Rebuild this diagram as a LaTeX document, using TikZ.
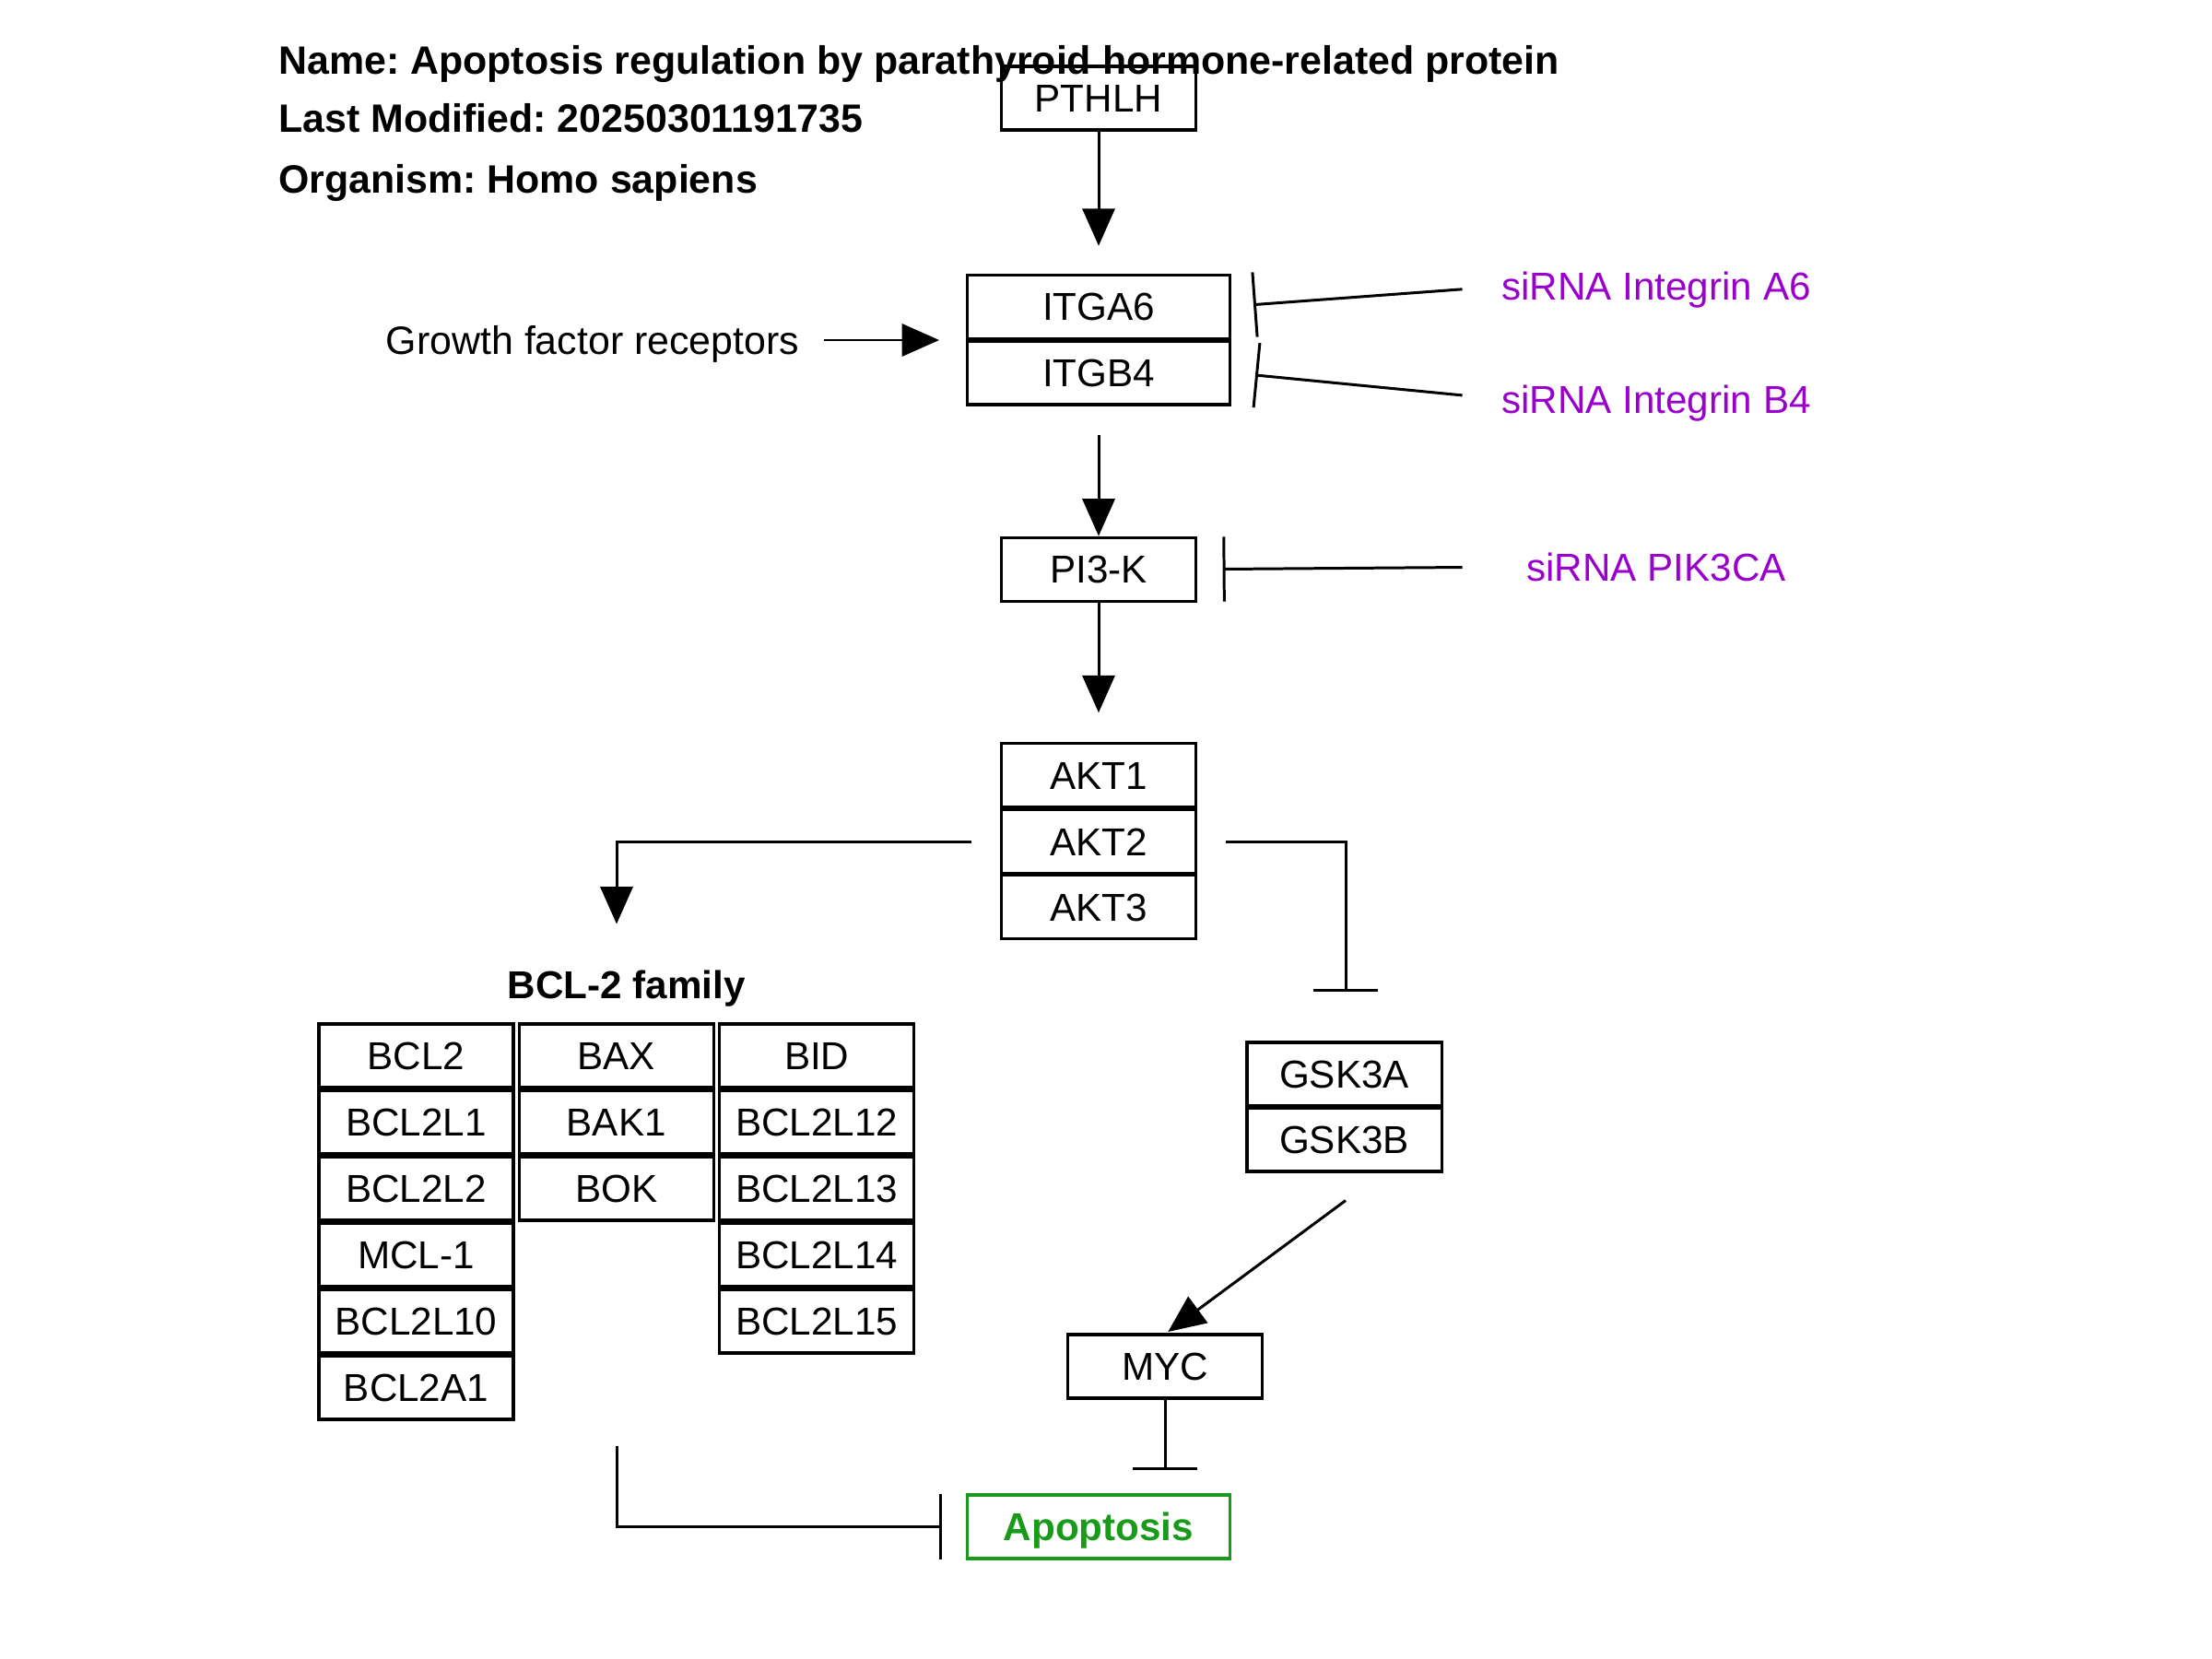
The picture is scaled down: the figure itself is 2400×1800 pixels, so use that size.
\documentclass[tikz,border=0pt]{standalone}
\usepackage{fontspec}
\setmainfont{Liberation Sans}
\usetikzlibrary{arrows.meta}
\definecolor{sirna}{RGB}{153,0,204}
\definecolor{apop}{RGB}{26,154,26}
\frenchspacing
\begin{document}
\begin{tikzpicture}[x=0.01cm,y=-0.01cm,
  every node/.style={font=\fontsize{12pt}{14pt}\selectfont, inner sep=0pt, text height=8.6pt, text depth=0pt},
  gene/.style={draw, line width=0.9pt, minimum width=2.11cm, minimum height=0.69cm},
  wgene/.style={gene, minimum width=2.85cm},
  lbl/.style={font=\fontsize{12.2pt}{14pt}\selectfont},
  sir/.style={text=sirna},
  title/.style={anchor=west, font=\fontsize{12.2pt}{14pt}\selectfont\bfseries},
  act/.style={line width=0.85pt, -{Triangle[length=11.5pt,width=10pt]}},
  inh/.style={line width=0.85pt, -{Bar[width=20pt,line width=0.85pt]}}
]
\useasboundingbox (0,0) rectangle (2400,1800);

% titles
\node[title] (t1) at (301.5,65.8) {Name: Apoptosis regulation by parathyroid hormone-related protein};
\node[title] (t2) at (301.5,128.6) {Last Modified: 20250301191735};
\node[title] (t3) at (301.5,194.4) {Organism: Homo sapiens};

% genes
\node[gene] (PTHLH) at (1192,106.5) {PTHLH};
\node[wgene] (ITGA6) at (1192,332.7) {ITGA6};
\node[wgene] (ITGB4) at (1192,404.5) {ITGB4};
\node[gene] (PI3K) at (1192,617.7) {PI3-K};
\node[gene] (AKT1) at (1192,841) {AKT1};
\node[gene] (AKT2) at (1192,913) {AKT2};
\node[gene] (AKT3) at (1192,984.3) {AKT3};

\node[lbl] (gfr) at (643,369) {Growth factor receptors};
\node[sir] (sA6) at (1797,310.7) {siRNA Integrin A6};
\node[sir] (sB4) at (1797,433) {siRNA Integrin B4};
\node[sir] (sPIK) at (1797,615) {siRNA PIK3CA};

\node[font=\fontsize{12pt}{14pt}\selectfont\bfseries] (fam) at (679.6,1068.4) {BCL-2 family};

% BCL-2 family columns
\node[gene] (BCL2) at (451.5,1145.5) {BCL2};
\node[gene] (BCL2L1) at (451.5,1217.5) {BCL2L1};
\node[gene] (BCL2L2) at (451.5,1289.5) {BCL2L2};
\node[gene] (MCL1) at (451.5,1361.5) {MCL-1};
\node[gene] (BCL2L10) at (451.5,1433.5) {BCL2L10};
\node[gene] (BCL2A1) at (451.5,1505.5) {BCL2A1};

\node[gene] (BAX) at (668.7,1145.5) {BAX};
\node[gene] (BAK1) at (668.7,1217.5) {BAK1};
\node[gene] (BOK) at (668.7,1289.5) {BOK};

\node[gene] (BID) at (886.2,1145.5) {BID};
\node[gene] (BCL2L12) at (886.2,1217.5) {BCL2L12};
\node[gene] (BCL2L13) at (886.2,1289.5) {BCL2L13};
\node[gene] (BCL2L14) at (886.2,1361.5) {BCL2L14};
\node[gene] (BCL2L15) at (886.2,1433.5) {BCL2L15};

\node[gene] (GSK3A) at (1458.5,1165.5) {GSK3A};
\node[gene] (GSK3B) at (1458.5,1236.5) {GSK3B};
\node[gene] (MYC) at (1264.3,1482.5) {MYC};
\node[wgene, draw=apop, text=apop, font=\fontsize{12pt}{14pt}\selectfont\bfseries] (Apop) at (1192,1656.5) {Apoptosis};

% helper coordinates
\coordinate (itgw) at (1050,369);
\coordinate (a6e) at (1360,330.6);
\coordinate (b4e) at (1362,407);
\coordinate (bclin) at (669,1002.5);
\coordinate (gskin) at (1460.2,1076);
\coordinate (gsko) at (1460,1302.5);
\coordinate (mycin) at (1267.3,1445);
\coordinate (myce) at (1264.3,1595);
\coordinate (bclout) at (669,1569);

% connectors
\draw[act, shorten >=8.5pt] (PTHLH) -- (ITGA6);
\draw[act, shorten <=7.4pt, shorten >=8.8pt] (gfr.east) -- (itgw);
\draw[act, shorten <=8.8pt] (ITGB4) -- (PI3K);
\draw[act, shorten >=9pt] (PI3K) -- (AKT1);
\draw[inh, shorten <=12pt] (sA6.west) -- (a6e);
\draw[inh, shorten <=12pt] (sB4.west) -- (b4e);
\draw[inh, shorten <=19.6pt, shorten >=7.8pt] (sPIK.west) -- (PI3K.east);
\draw[act, shorten <=8.7pt] (AKT2.west) -| (bclin);
\draw[inh, shorten <=8.7pt] (AKT2.east) -| (gskin);
\draw[act] (gsko) -- (mycin);
\draw[inh] (MYC) -- (myce);
\draw[inh, shorten >=7.4pt] (bclout) |- (Apop.west);
\end{tikzpicture}
\end{document}
